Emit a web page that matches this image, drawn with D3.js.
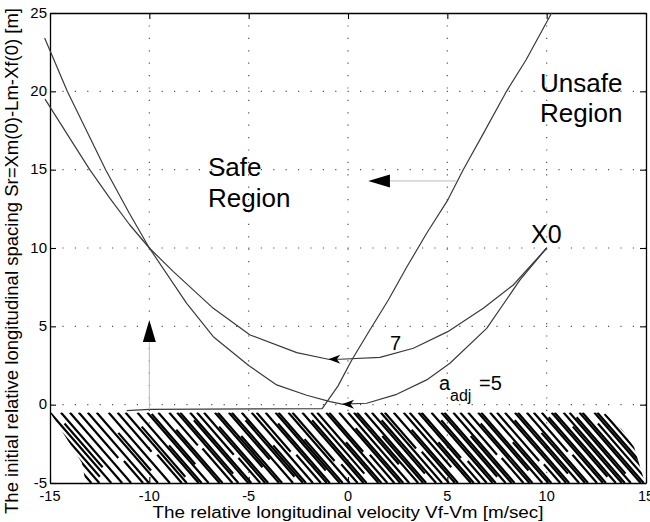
<!DOCTYPE html>
<html><head><meta charset="utf-8">
<script src="https://cdn.jsdelivr.net/npm/d3@7"></script>
<style>
body{margin:0;background:#fff}
svg{display:block}
text{font-family:"Liberation Sans",Arial,Helvetica,sans-serif;fill:#000}
</style>
</head><body>
<svg id="chart" width="650" height="522"></svg>
<script>
// ---------- data ----------
const xTicks = [-15, -10, -5, 0, 5, 10, 15];
const yTicks = [-5, 0, 5, 10, 15, 20, 25];
const xGrid = [-10, -5, 0, 5, 10];
const yGrid = [0, 5, 10, 15, 20];

// trajectory with a_adj = 5 (steeper, reaches ~0)
const curveA5 = [
  [10, 10], [8.66, 7.96], [6.98, 4.87], [5.13, 2.64], [3.96, 1.58], [2.45, 0.66],
  [0.94, 0.09], [-0.3, 0.03], [-0.9, 0.19], [-2.08, 0.6], [-3.59, 1.26], [-5, 2.5],
  [-6.78, 4.34], [-8.12, 6.47], [-10, 10], [-11.0, 12.2], [-12.2, 15], [-14.13, 20], [-15.27, 23.4]
];
// trajectory with a_adj = 7 (flatter, minimum ~3)
const curveA7 = [
  [10, 10], [8.32, 7.64], [6.81, 6.15], [5.02, 4.66], [3.29, 3.6], [1.61, 3.02],
  [-0.4, 2.9], [-0.99, 2.9], [-2.58, 3.32], [-4.93, 4.45], [-6.78, 6.15], [-8.79, 8.49],
  [-10, 10], [-11, 11.5], [-12, 13.2], [-13, 15], [-14, 17.0], [-15.25, 19.5]
];
// safe / unsafe boundary
const unsafeBoundary = [
  [-11.14, -0.38], [-10, -0.3], [-1.3, -0.25], [-0.5, 1.2], [0.19, 2.85], [1.1, 4.77],
  [2.03, 6.68], [2.98, 8.83], [3.96, 10.94], [5.02, 13.06], [5.8, 15], [6.81, 17.3],
  [7.98, 20], [8.96, 22], [10.25, 25]
];
// arrow tips on trajectories (pointing left)
const curveArrowTips = [[-0.99, 2.9], [-0.3, 0.03]];
// big direction arrows: [stemStart, base, tip]
const upArrow = [[-10, -0.3], [-10, 4.0], [-10, 5.4]];
const leftArrow = [[5.47, 14.28], [2.11, 14.28], [1.02, 14.28]];

// hatched region: each line [v at top edge, from value, to value]
const hatchTop = -0.5;
const hatchSlope = 1.46;
const hatchLines = [
  [-16.0,-0.5,-5],[-15.6,-0.5,-5],[-15.3,-0.5,-4.6],[-15.0,-0.5,-5],[-14.75,-1.2,-4.0],
  [-14.45,-0.5,-5],[-14.0,-0.5,-5],[-13.55,-0.5,-3.4],[-13.4,-3.6,-5],[-13.1,-0.5,-5],
  [-12.65,-0.5,-5],[-12.45,-1.8,-4.2],[-12.05,-0.5,-5],[-11.6,-0.5,-3.0],[-11.45,-3.2,-5],
  [-11.2,-0.5,-5],[-11.0,-1.4,-4.6],[-10.6,-0.5,-5],[-10.45,-2.6,-5],[-10.1,-0.5,-5],
  [-9.95,-0.6,-3.8],[-9.55,-0.5,-5],[-9.4,-1.6,-5],[-9.0,-0.5,-2.6],[-8.9,-2.8,-5],
  [-8.6,-0.5,-5],[-8.45,-0.5,-4.4],[-8.1,-1.0,-5],[-7.95,-0.5,-5],[-7.6,-0.5,-3.2],
  [-7.5,-3.4,-5],[-7.25,-0.5,-5],[-7.1,-1.4,-5],[-6.7,-0.5,-4.0],[-6.55,-0.5,-5],
  [-6.4,-2.0,-5],[-6.0,-0.5,-3.5],[-5.85,-0.5,-5],[-5.5,-1.0,-4.6],[-5.35,-0.5,-5],
  [-5.2,-2.6,-5],[-4.85,-0.5,-5],[-4.6,-0.5,-3.0],[-4.45,-3.2,-5],[-4.15,-0.5,-5],
  [-4.0,-1.2,-5],[-3.65,-0.5,-4.2],[-3.5,-0.5,-5],[-3.35,-2.2,-5],[-3.0,-0.5,-5],
  [-2.8,-0.5,-3.6],[-2.6,-3.8,-5],[-2.3,-0.5,-5],[-2.15,-1.0,-5],[-1.85,-0.5,-4.4],
  [-1.55,-0.5,-5],[-1.4,-2.4,-5],[-1.1,-0.5,-5],[-0.95,-0.5,-3.0],[-0.75,-3.2,-5],
  [-0.45,-0.5,-5],[-0.3,-1.5,-5],[0.0,-0.5,-5],[0.3,-0.5,-3.8],[0.45,-0.5,-5],
  [0.7,-2.0,-5],[0.85,-0.5,-5],[1.2,-0.5,-4.4],[1.35,-1.0,-5],[1.65,-0.5,-5],
  [1.85,-0.5,-2.8],[2.0,-3.0,-5],[2.3,-0.5,-5],[2.45,-1.6,-5],[2.8,-0.5,-4.0],
  [3.1,-0.5,-5],[3.25,-2.4,-5],[3.55,-0.5,-5],[3.7,-0.5,-3.4],[3.9,-3.6,-5],
  [4.2,-0.5,-5],[4.35,-1.0,-5],[4.7,-0.5,-4.6],[4.85,-0.5,-5],[5.15,-2.0,-5],
  [5.3,-0.5,-5],[5.65,-0.5,-3.2],[5.75,-3.4,-5],[6.05,-0.5,-5],[6.2,-1.2,-5],
  [6.55,-0.5,-4.2],[6.7,-0.5,-5],[7.0,-2.4,-5],[7.15,-0.5,-5],[7.5,-0.5,-3.6],
  [7.6,-3.8,-5],[7.9,-0.5,-5],[8.05,-1.0,-5],[8.4,-0.5,-4.4],[8.55,-0.5,-5],
  [8.85,-1.8,-5],[9.0,-0.5,-5],[9.35,-0.5,-3.0],[9.45,-3.2,-5],[9.75,-0.5,-5],
  [9.9,-0.8,-5],[10.25,-0.5,-4.6],[10.4,-0.5,-5],[10.7,-1.4,-5],[10.85,-0.5,-5],
  [11.15,-0.5,-5],[11.3,-0.8,-4.4],[11.65,-0.5,-5],[11.8,-0.5,-5],[12.1,-1.2,-5],
  [12.4,-0.5,-5],[12.55,-0.5,-5],[12.85,-0.6,-5],[13.1,-1.0,-5],[13.35,-1.4,-5],
  [13.6,-2.0,-5]
];
const hatchOutline = [[-15,-0.5],[12.9,-0.5],[13.8,-1.6],[14.4,-2.7],[14.9,-4.8],[15,-5],
  [-13.2,-5],[-13.4,-3.7],[-14.2,-2.1]];

const texts = {
  xLabel: "The relative longitudinal velocity  Vf-Vm  [m/sec]",
  yLabel: "The initial relative longitudinal spacing Sr=Xm(0)-Lm-Xf(0)  [m]",
  safe: ["Safe", "Region"],
  unsafe: ["Unsafe", "Region"],
  x0: "X0",
  seven: "7",
  adj: ["a", "adj", "=5"]
};

// ---------- layout ----------
const L = 50, R = 646, T = 13, B = 483;
const x = d3.scaleLinear().domain([-15, 15]).range([L, R]);
const y = d3.scaleLinear().domain([-5, 25]).range([B, T]);
const svg = d3.select("#chart");

// grid (dotted)
const g = svg.append("g");
g.selectAll(".gx").data(xGrid).join("line")
  .attr("x1", d => x(d)).attr("x2", d => x(d)).attr("y1", T).attr("y2", B)
  .attr("stroke", "#555").attr("stroke-width", 1.2).attr("stroke-dasharray", "1.2 11.2");
g.selectAll(".gy").data(yGrid).join("line")
  .attr("y1", d => y(d)).attr("y2", d => y(d)).attr("x1", L).attr("x2", R)
  .attr("stroke", "#555").attr("stroke-width", 1.2).attr("stroke-dasharray", "1.2 11.2");

// hatch
const clip = svg.append("clipPath").attr("id", "hclip");
clip.append("path").attr("d", d3.line().x(d => x(d[0])).y(d => y(d[1]))(hatchOutline) + "Z");
const hv = (l, s) => l[0] + (hatchTop - s) / hatchSlope;
svg.append("g").attr("clip-path", "url(#hclip)")
  .selectAll("line").data(hatchLines).join("line")
  .attr("x1", d => x(hv(d, d[1]))).attr("y1", d => y(d[1]))
  .attr("x2", d => x(hv(d, d[2]))).attr("y2", d => y(d[2]))
  .attr("stroke", "#000").attr("stroke-width", 2.2).attr("stroke-linecap", "butt");

// axes box + ticks
const axG = svg.append("g");
const xb = d3.axisBottom(x).tickValues(xTicks).tickSizeInner(-6).tickSizeOuter(0).tickFormat("");
const xt = d3.axisTop(x).tickValues(xTicks).tickSizeInner(-6).tickSizeOuter(0).tickFormat("");
const yl = d3.axisLeft(y).tickValues(yTicks).tickSizeInner(-6).tickSizeOuter(0).tickFormat("");
const yr = d3.axisRight(y).tickValues(yTicks).tickSizeInner(-6).tickSizeOuter(0).tickFormat("");
axG.append("g").attr("transform", `translate(0,${B})`).call(xb);
axG.append("g").attr("transform", `translate(0,${T})`).call(xt);
axG.append("g").attr("transform", `translate(${L},0)`).call(yl);
axG.append("g").attr("transform", `translate(${R},0)`).call(yr);
axG.selectAll("path.domain").attr("stroke", "#000").attr("stroke-width", 1.3);
axG.selectAll(".tick line").attr("stroke", "#000").attr("stroke-width", 1.1);

// tick labels
svg.append("g").selectAll("text").data(xTicks).join("text")
  .attr("x", d => x(d)).attr("y", 501).attr("text-anchor", "middle")
  .attr("font-size", 14.5).text(d => d);
svg.append("g").selectAll("text").data(yTicks).join("text")
  .attr("x", 47).attr("y", d => y(d) + 4.5).attr("text-anchor", "end")
  .attr("font-size", 15).text(d => d);

// axis labels
svg.append("text").attr("x", 348).attr("y", 518).attr("text-anchor", "middle")
  .attr("font-size", 16).attr("textLength", 391).attr("lengthAdjust", "spacingAndGlyphs")
  .text(texts.xLabel);
svg.append("text").attr("transform", "translate(18,261) rotate(-90)").attr("text-anchor", "middle")
  .attr("font-size", 17.5).attr("textLength", 506).attr("lengthAdjust", "spacingAndGlyphs")
  .text(texts.yLabel);

// curves
const line = d3.line().x(d => x(d[0])).y(d => y(d[1]));
[curveA5, curveA7, unsafeBoundary].forEach(c => {
  svg.append("path").attr("d", line(c)).attr("fill", "none")
    .attr("stroke", "#3a3a3a").attr("stroke-width", 1.2).attr("stroke-linejoin", "round");
});

// small arrowheads on curves
svg.append("g").selectAll("path").data(curveArrowTips).join("path")
  .attr("d", d => {
    const tx = x(d[0]), ty = y(d[1]);
    return `M${tx},${ty} L${tx + 12},${ty - 4.5} L${tx + 8.5},${ty} L${tx + 12},${ty + 4.5} Z`;
  }).attr("fill", "#000");

// big arrows
function bigArrow(a, vertical) {
  svg.append("line").attr("x1", x(a[0][0])).attr("y1", y(a[0][1]))
    .attr("x2", x(a[1][0])).attr("y2", y(a[1][1])).attr("stroke", "#bbb").attr("stroke-width", 1);
  const bx = x(a[1][0]), by = y(a[1][1]), tx = x(a[2][0]), ty = y(a[2][1]);
  const pts = vertical
    ? [[tx, ty], [bx - 6.5, by], [bx + 6.5, by]]
    : [[tx, ty], [bx, by - 6.5], [bx, by + 6.5]];
  svg.append("path").attr("d", "M" + pts.join("L") + "Z").attr("fill", "#000");
}
bigArrow(upArrow, true);
bigArrow(leftArrow, false);

// annotations
svg.append("text").attr("x", 208).attr("y", 176).attr("font-size", 26).text(texts.safe[0]);
svg.append("text").attr("x", 208).attr("y", 207).attr("font-size", 26).text(texts.safe[1]);
svg.append("text").attr("x", 540).attr("y", 92).attr("font-size", 26).text(texts.unsafe[0]);
svg.append("text").attr("x", 540).attr("y", 122).attr("font-size", 26).text(texts.unsafe[1]);
svg.append("text").attr("x", 531).attr("y", 243).attr("font-size", 25).text(texts.x0);
svg.append("text").attr("x", 390).attr("y", 350).attr("font-size", 20).text(texts.seven);
svg.append("text").attr("x", 439).attr("y", 390).attr("font-size", 20).text(texts.adj[0]);
svg.append("text").attr("x", 450).attr("y", 401).attr("font-size", 16).text(texts.adj[1]);
svg.append("text").attr("x", 479).attr("y", 390).attr("font-size", 20).text(texts.adj[2]);
</script>
</body></html>
